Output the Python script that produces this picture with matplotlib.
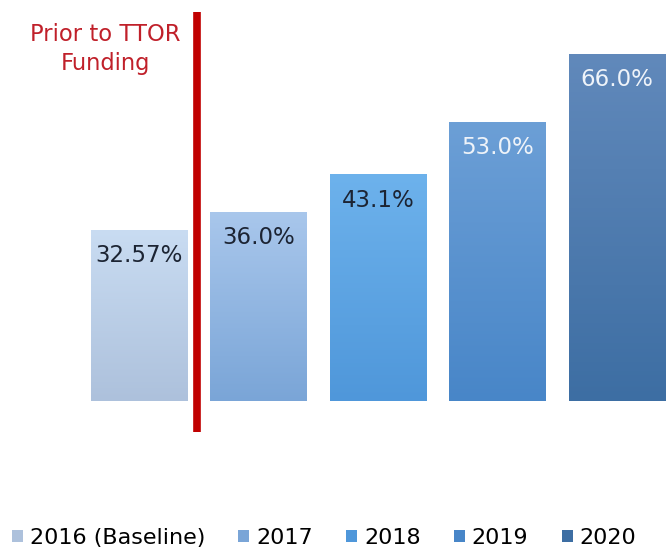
import numpy as np
import matplotlib
matplotlib.use("Agg")
import matplotlib.pyplot as plt
from matplotlib.colors import LinearSegmentedColormap
from matplotlib.patches import Patch

categories = ["2016 (Baseline)", "2017", "2018", "2019", "2020"]
values = [32.57, 36.0, 43.1, 53.0, 66.0]
labels = ["32.57%", "36.0%", "43.1%", "53.0%", "66.0%"]
top_colors = ["#c9dcf2", "#a9c7ec", "#6db2ec", "#6c9fd6", "#6189bb"]
bottom_colors = ["#adc1dc", "#7aa5d7", "#4f97da", "#4886c8", "#3d6ea3"]
label_colors = ["#1c2433", "#1c2433", "#1c2433", "#eef3f9", "#eef3f9"]

W, H = 671, 550
fig = plt.figure(figsize=(W / 100, H / 100), dpi=100)
ax = fig.add_axes([0, 0, 1, 1])
px_per_unit = 5.26
x0_px, spacing = 139, 119.5
base_py = 401
ax.axis("off")

x = np.arange(len(values))
bars = ax.bar(x, values, width=0.805, color=bottom_colors, zorder=2)
for i, b in enumerate(bars):
    cmap = LinearSegmentedColormap.from_list("g", [bottom_colors[i], top_colors[i]])
    grad = np.linspace(0, 1, 256).reshape(-1, 1)
    bx, by = b.get_x(), b.get_y()
    im = ax.imshow(grad, cmap=cmap, aspect="auto", origin="lower",
                   extent=[bx, bx + b.get_width(), by, by + b.get_height()], zorder=3)
    im.set_clip_path(b)
    ax.text(x[i], values[i] - 4.9, labels[i], ha="center", va="center",
            fontsize=16.5, color=label_colors[i], zorder=4)

# divider line
ax.plot([0.485, 0.485], [(base_py - 12) / px_per_unit, (base_py - 432) / px_per_unit],
        color="#c00000", lw=5.5, solid_capstyle="butt", zorder=5)
ax.text((105 - x0_px) / spacing, (base_py - 49) / px_per_unit, "Prior to TTOR\nFunding",
        ha="center", va="center", fontsize=16.3, color="#c0202a", linespacing=1.3)

ax.set_xlim(-x0_px / spacing, (W - x0_px) / spacing)
ax.set_ylim((base_py - H) / px_per_unit, base_py / px_per_unit)

handles = [Patch(facecolor=bottom_colors[i], edgecolor="none") for i in range(len(values))]
fig.legend(handles, categories, loc="center", bbox_to_anchor=(324 / W, 1 - 538 / H), ncol=5,
           frameon=False, fontsize=16, handlelength=0.5, handleheight=0.5,
           handletextpad=0.3, columnspacing=1.5, borderpad=0.2)

fig.savefig("out.png", dpi=100)
